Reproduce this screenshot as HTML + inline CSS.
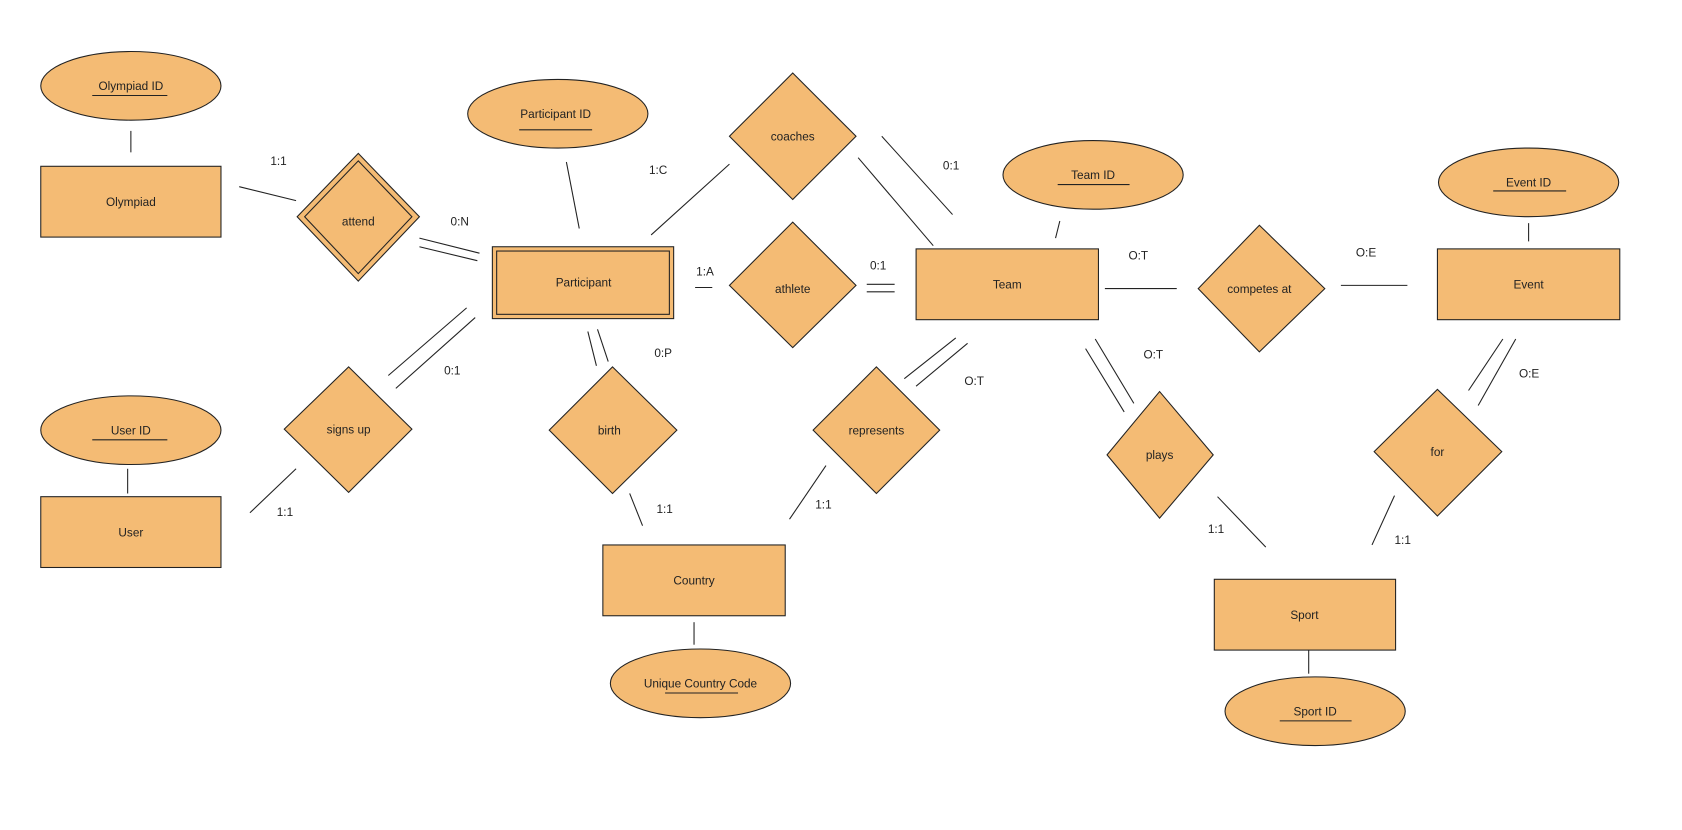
<!DOCTYPE html>
<html><head><meta charset="utf-8"><style>
html,body{margin:0;padding:0;background:#fff;}
svg{display:block;}
text{font-family:"Liberation Sans",sans-serif;font-size:11px;fill:#222;}
</style></head><body>
<svg width="1682" height="830" viewBox="0 0 1568 773.7" xmlns="http://www.w3.org/2000/svg">
<g fill="#f4bb74" stroke="#222" stroke-width="1">
<ellipse cx="122" cy="80" rx="84" ry="32"/>
<ellipse cx="520" cy="106" rx="84" ry="32"/>
<ellipse cx="1019" cy="163" rx="84" ry="32"/>
<ellipse cx="1425" cy="170" rx="84" ry="32"/>
<ellipse cx="122" cy="401" rx="84" ry="32"/>
<ellipse cx="653" cy="637" rx="84" ry="32"/>
<ellipse cx="1226" cy="663" rx="84" ry="32"/>
<rect x="38" y="155" width="168" height="66"/>
<rect x="459" y="230" width="169" height="67"/>
<rect x="463" y="234" width="161" height="59"/>
<rect x="854" y="232" width="170" height="66"/>
<rect x="1340" y="232" width="170" height="66"/>
<rect x="38" y="463" width="168" height="66"/>
<rect x="562" y="508" width="170" height="66"/>
<rect x="1132" y="540" width="169" height="66"/>
<polygon points="334,143 391,202 334,262 277,202"/>
<polygon points="334,150 384,202 334,255 284,202"/>
<polygon points="739,68 798,127 739,186 680,127"/>
<polygon points="739,207 798,266 739,324 680,266"/>
<polygon points="1174,210 1235,269 1174,328 1117,269"/>
<polygon points="1340,363 1400,421 1340,481 1281,421"/>
<polygon points="1081,365 1131,424 1081,483 1032,424"/>
<polygon points="817,342 876,401 817,460 758,401"/>
<polygon points="571,342 631,401 571,460 512,401"/>
<polygon points="325,342 384,400 325,459 265,400"/>
</g>
<g stroke="#222" stroke-width="1" fill="none">
<line x1="122" y1="122" x2="122" y2="142"/>
<line x1="223" y1="174" x2="276" y2="187"/>
<line x1="391" y1="222" x2="447" y2="236"/><line x1="391" y1="230" x2="445" y2="243"/>
<line x1="528" y1="151" x2="540" y2="213"/>
<line x1="607" y1="219" x2="680" y2="153"/>
<line x1="822" y1="127" x2="888" y2="200"/><line x1="800" y1="147" x2="870" y2="229"/>
<line x1="988" y1="206" x2="984" y2="222"/>
<line x1="648" y1="268" x2="664" y2="268"/>
<line x1="808" y1="265" x2="834" y2="265"/><line x1="808" y1="272" x2="834" y2="272"/>
<line x1="1030" y1="269" x2="1097" y2="269"/>
<line x1="1250" y1="266" x2="1312" y2="266"/>
<line x1="1425" y1="208" x2="1425" y2="225"/>
<line x1="1369" y1="364" x2="1401" y2="316"/><line x1="1378" y1="378" x2="1413" y2="316"/>
<line x1="1300" y1="462" x2="1279" y2="508"/>
<line x1="1220" y1="606" x2="1220" y2="628"/>
<line x1="1012" y1="325" x2="1048" y2="384"/><line x1="1021" y1="316" x2="1057" y2="376"/>
<line x1="1135" y1="463" x2="1180" y2="510"/>
<line x1="843" y1="353" x2="891" y2="315"/><line x1="854" y1="360" x2="902" y2="320"/>
<line x1="736" y1="484" x2="770" y2="434"/>
<line x1="647" y1="580" x2="647" y2="601"/>
<line x1="548" y1="309" x2="556" y2="341"/><line x1="557" y1="307" x2="567" y2="337"/>
<line x1="587" y1="460" x2="599" y2="490"/>
<line x1="362" y1="350" x2="435" y2="287"/><line x1="369" y1="362" x2="443" y2="296"/>
<line x1="233" y1="478" x2="276" y2="437"/>
<line x1="119" y1="437" x2="119" y2="460"/>
<line x1="86" y1="89" x2="156" y2="89"/>
<line x1="484" y1="121" x2="552" y2="121"/>
<line x1="986" y1="172" x2="1053" y2="172"/>
<line x1="1392" y1="178" x2="1460" y2="178"/>
<line x1="86" y1="410" x2="156" y2="410"/>
<line x1="620" y1="646" x2="688" y2="646"/>
<line x1="1193" y1="672" x2="1260" y2="672"/>
</g>
<g text-anchor="middle">
<text x="122" y="84">Olympiad ID</text>
<text x="518" y="110">Participant ID</text>
<text x="1019" y="167">Team ID</text>
<text x="1425" y="174">Event ID</text>
<text x="122" y="405">User ID</text>
<text x="653" y="641">Unique Country Code</text>
<text x="1226" y="667">Sport ID</text>
<text x="122" y="192">Olympiad</text>
<text x="544" y="267">Participant</text>
<text x="939" y="269">Team</text>
<text x="1425" y="269">Event</text>
<text x="122" y="500">User</text>
<text x="647" y="545">Country</text>
<text x="1216" y="577">Sport</text>
<text x="334" y="210">attend</text>
<text x="739" y="131">coaches</text>
<text x="739" y="273">athlete</text>
<text x="1174" y="273">competes at</text>
<text x="1340" y="425">for</text>
<text x="1081" y="428">plays</text>
<text x="817" y="405">represents</text>
<text x="568" y="405">birth</text>
<text x="325" y="404">signs up</text>
</g>
<g>
<text x="252" y="154">1:1</text>
<text x="420" y="210">0:N</text>
<text x="605" y="162">1:C</text>
<text x="879" y="158">0:1</text>
<text x="649" y="257">1:A</text>
<text x="811" y="251">0:1</text>
<text x="1052" y="242">O:T</text>
<text x="1264" y="239">O:E</text>
<text x="1416" y="352">O:E</text>
<text x="1300" y="507">1:1</text>
<text x="1066" y="334">O:T</text>
<text x="1126" y="497">1:1</text>
<text x="899" y="359">O:T</text>
<text x="760" y="474">1:1</text>
<text x="610" y="333">0:P</text>
<text x="612" y="478">1:1</text>
<text x="414" y="349">0:1</text>
<text x="258" y="481">1:1</text>
</g>
</svg>
</body></html>
